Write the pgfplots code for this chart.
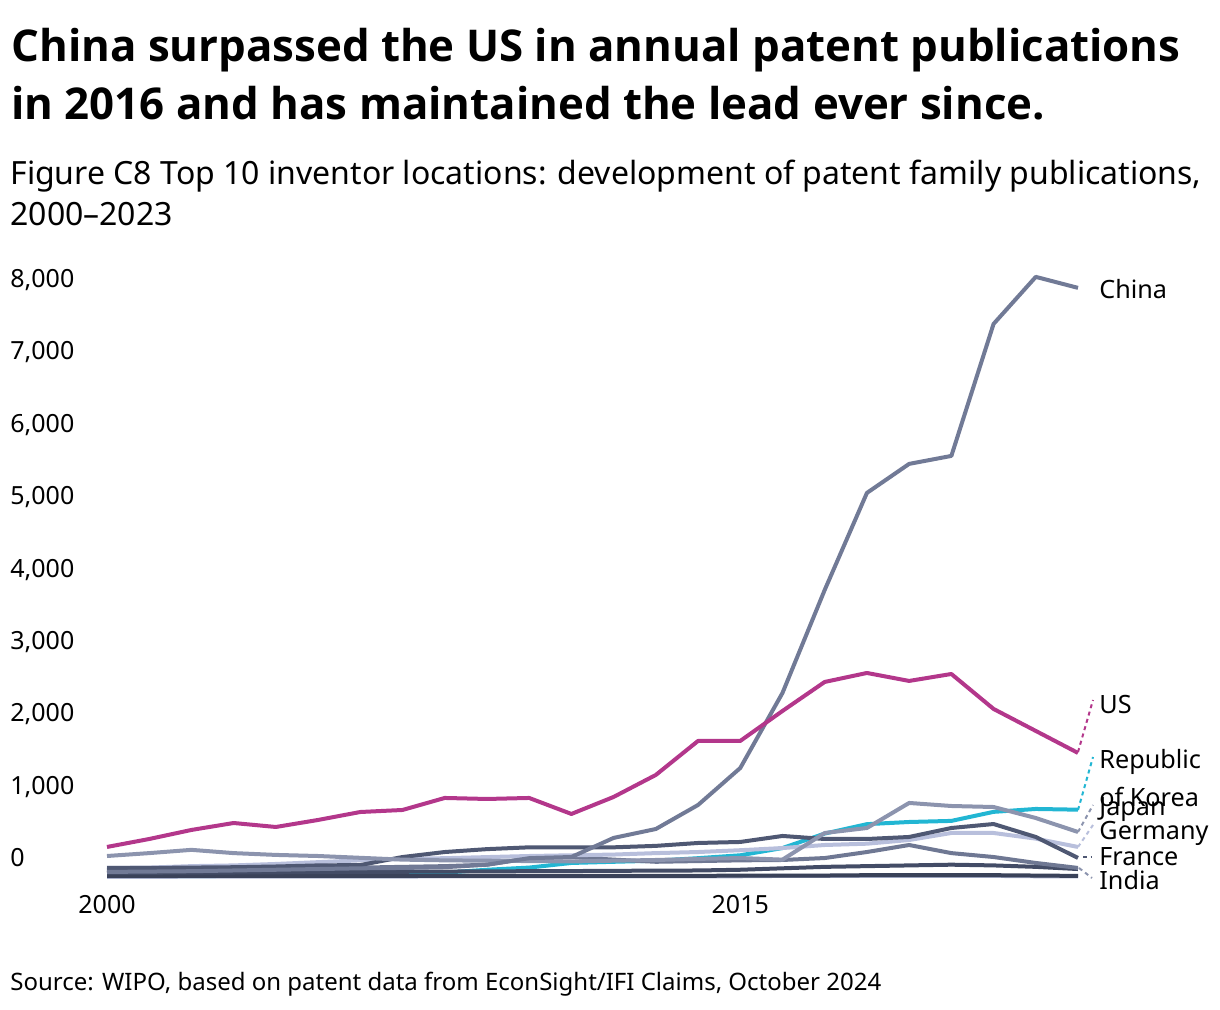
\documentclass[border=0pt]{standalone}
\usepackage{pgfplots}
\pgfplotsset{compat=1.18}
\usepackage{pgfplotstable}
\usepackage{fontspec}
\setmainfont{Noto Sans}
\newfontfamily\titlefont{Open Sans}

\definecolor{cUS}{HTML}{B3378B}
\definecolor{cCN}{HTML}{717A96}
\definecolor{cKR}{HTML}{22B6D3}
\definecolor{cJP}{HTML}{8C94AE}
\definecolor{cDE}{HTML}{B8BFDC}
\definecolor{cFR}{HTML}{4F5873}
\definecolor{cO1}{HTML}{6F7893}
\definecolor{cO2}{HTML}{434C66}
\definecolor{cO3}{HTML}{3A4259}
\definecolor{cO4}{HTML}{A9B1CC}

\pgfplotstableread{
year china us korea japan germany france oth1 oth2 oth3 oth4
2000 70 415 10 290 125 125 100 55 15 0
2001 75 525 10 330 130 125 105 58 15 0
2002 80 650 12 375 150 130 110 60 15 5
2003 90 746 15 330 160 135 115 62 15 5
2004 100 691 18 305 180 145 120 65 15 5
2005 110 788 22 290 205 160 125 68 15 5
2006 120 898 28 265 230 165 130 70 15 5
2007 125 926 40 240 250 276 140 72 15 5
2008 135 1092 60 230 260 345 150 75 15 10
2009 170 1078 100 225 275 385 170 78 15 10
2010 260 1092 130 220 290 410 260 80 15 10
2011 276 871 194 215 300 410 276 82 15 10
2012 540 1106 210 225 310 410 240 85 15 10
2013 663 1410 225 235 330 430 210 88 15 10
2014 995 1880 260 250 345 470 220 90 15 10
2015 1506 1880 300 262 370 484 230 100 20 10
2016 2543 2294 400 240 400 567 235 120 20 15
2017 3966 2695 600 608 442 525 262 140 20 15
2018 5307 2819 730 677 460 525 345 150 25 15
2019 5708 2709 760 1023 511 553 442 160 25 15
2020 5818 2805 775 981 608 677 330 170 25 15
2021 7642 2322 900 967 608 732 276 160 25 15
2022 8292 2018 940 815 530 553 194 140 20 10
2023 8140 1714 930 622 415 263 125 110 15 10
}\datatable

\begin{document}
\begin{tikzpicture}
\useasboundingbox (0,0) rectangle (610pt,505pt);

\begin{axis}[
  at={(53.5pt,66.5pt)}, anchor=south west,
  scale only axis, width=485.5pt, height=289.5pt,
  xmin=2000, xmax=2023, ymin=0, ymax=8000,
  clip=false,
  axis line style={draw=none},
  major tick length=0pt, tick style={draw=none},
  xtick={2000,2015}, xticklabels={2000,2015},
  ytick={0,1000,2000,3000,4000,5000,6000,7000,8000},
  yticklabels={0,{1,000},{2,000},{3,000},{4,000},{5,000},{6,000},{7,000},{8,000}},
  yticklabel style={anchor=base west, inner sep=0pt, xshift=-48.5pt, yshift=5.25pt, font=\fontsize{12.5}{14}\selectfont},
  xticklabel style={anchor=base, inner sep=0pt, yshift=-18.5pt, font=\fontsize{12.5}{14}\selectfont},
  every axis plot/.append style={no markers, line width=2pt, line join=round},
]
\addplot[color=cKR] table[x=year,y=korea]{\datatable};
\addplot[color=cO4] table[x=year,y=oth4]{\datatable};
\addplot[color=cO3] table[x=year,y=oth3]{\datatable};
\addplot[color=cO2] table[x=year,y=oth2]{\datatable};
\addplot[color=cO1] table[x=year,y=oth1]{\datatable};
\addplot[color=cDE] table[x=year,y=germany]{\datatable};
\addplot[color=cFR] table[x=year,y=france]{\datatable};
\addplot[color=cJP] table[x=year,y=japan]{\datatable};
\addplot[color=cCN] table[x=year,y=china]{\datatable};
\addplot[color=cUS] table[x=year,y=us]{\datatable};
\end{axis}

\begin{scope}[shift={(0pt,505pt)}, x=0.5pt, y=-0.5pt]
\node[anchor=base west, inner sep=0pt, font=\fontsize{21.9}{26}\selectfont\titlefont\bfseries] at (11,62) {China surpassed the US in annual patent publications};
\node[anchor=base west, inner sep=0pt, font=\fontsize{21.9}{26}\selectfont\titlefont\bfseries] at (11,120) {in 2016 and has maintained the lead ever since.};
\node[anchor=base west, inner sep=0pt, font=\fontsize{16}{19}\selectfont] at (10,185) {Figure C8 Top 10 inventor locations: development of patent family publications,};
\node[anchor=base west, inner sep=0pt, font=\fontsize{16}{19}\selectfont] at (10,226) {2000--2023};
\node[anchor=base west, inner sep=0pt, font=\fontsize{12}{14}\selectfont] at (10,991) {Source: WIPO, based on patent data from EconSight/IFI Claims, October 2024};

\begin{scope}[line width=1pt, dash pattern=on 2pt off 1.8pt]
\draw[cUS] (1078,752) -- (1093,700);
\draw[cKR] (1078,810) -- (1093,757);
\draw[cJP] (1078,832) -- (1093,805);
\draw[cDE] (1078,847) -- (1093,825);
\draw[cFR] (1083,857) -- (1091,857);
\draw[cJP] (1079,868) -- (1092,878);
\end{scope}

\begin{scope}[every node/.style={anchor=west, inner sep=0pt, font=\fontsize{12.6}{14}\selectfont}]
\node at (1099,289) {China};
\node at (1099,705) {US};
\node at (1099,762) {Republic};
\node at (1099,797) {of Korea};
\node at (1099,810) {Japan};
\node at (1099,833) {Germany};
\node at (1099,857) {France};
\node at (1099,880) {India};
\end{scope}
\end{scope}
\end{tikzpicture}
\end{document}
